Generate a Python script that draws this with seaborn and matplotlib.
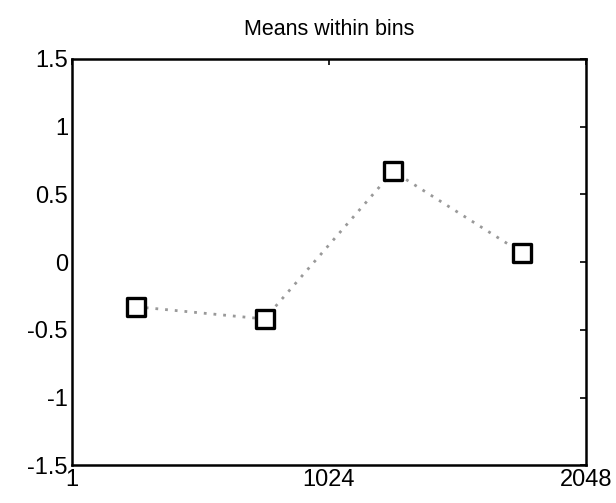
import numpy as np
import pandas as pd
import seaborn as sns
import matplotlib
matplotlib.use("Agg")
import matplotlib.pyplot as plt

# bin centres (samples 1..2048, four bins of 512) and the mean in each bin
bin_centers = [256, 768, 1280, 1792]
bin_means = [-0.33, -0.42, 0.67, 0.07]
x_ticks = [1, 1024, 2048]
y_ticks = [-1.5, -1, -0.5, 0, 0.5, 1, 1.5]
y_tick_labels = ["-1.5", "-1", "-0.5", "0", "0.5", "1", "1.5"]

df = pd.DataFrame({"sample": bin_centers, "mean": bin_means})

sns.set_style("white")
plt.rcParams['font.family'] = ['Liberation Sans', 'DejaVu Sans']

fig = plt.figure(figsize=(6.16, 5.03), dpi=100)
ax = fig.add_axes([0.117, 0.075, 0.834, 0.808])

sns.lineplot(data=df, x="sample", y="mean", ax=ax, color="#999999",
             linestyle=(0, (1, 2.5)), linewidth=2.0)
sns.scatterplot(data=df, x="sample", y="mean", ax=ax, marker="s", s=150,
                facecolor="white", edgecolor="black", linewidth=2.4, zorder=3)

ax.set_xlim(1, 2048)
ax.set_ylim(-1.5, 1.5)
ax.set_xticks(x_ticks)
ax.set_yticks(y_ticks)
ax.set_yticklabels(y_tick_labels)
ax.set_xlabel("")
ax.set_ylabel("")
ax.set_title("Means within bins", fontsize=15.5, pad=17, color="black")

for s in ax.spines.values():
    s.set_visible(True)
    s.set_color("black")
    s.set_linewidth(1.8)
ax.tick_params(direction="in", length=4, width=1.2, top=True, right=True,
               labelsize=17, pad=3, colors="black")

fig.savefig("out.png", dpi=100)
